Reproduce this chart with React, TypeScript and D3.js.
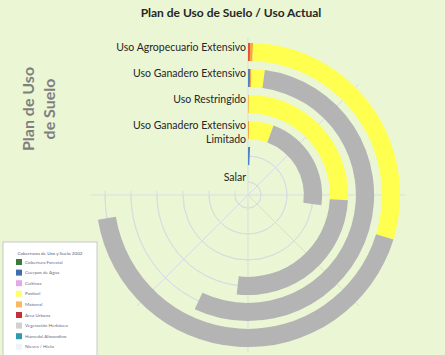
import React from "react";
import * as d3 from "d3";

// ---------- data ----------
const categories = [
  "Uso Agropecuario Extensivo",
  "Uso Ganadero Extensivo",
  "Uso Restringido",
  "Uso Ganadero Extensivo Limitado",
  "",
  "Salar",
];
// series values per category (arbitrary area units, scale max = 270)
const areaUrbana = [0.8, 0, 0, 0, 0, 0];
const cuerposAgua = [0, 1.0, 0, 0, 2.5, 0];
const matorral = [1.1, 0.6, 0.5, 0.9, 0, 0];
const pastizal = [105.1, 6.1, 92.5, 19.3, 0, 0];
const vegetacion = [153.6, 197.3, 93.5, 77.8, 0, 0];

const seriesNames = ["Área Urbana", "Cuerpos de Agua", "Matorral", "Pastizal", "Vegetación Herbácea"];
const seriesValues = [areaUrbana, cuerposAgua, matorral, pastizal, vegetacion];
const seriesColors = ["#E8503E", "#4A84C4", "#F5A83C", "#FFFF50", "#B4B4B4"];

const legendTitle = "Coberturas de Uso y Suelo 2002";
const legendItems = [
  "Cobertura Forestal",
  "Cuerpos de Agua",
  "Cultivos",
  "Pastizal",
  "Matorral",
  "Área Urbana",
  "Vegetación Herbácea",
  "Humedal Altoandino",
  "Nieves / Hielo",
];
const legendColors = ["#3B7A3B", "#3E6DB4", "#E3A8EC", "#FFFF66", "#F9B95C", "#C2303C", "#D0D0D0", "#2C9DAE", "#EEF3FA"];

const scaleMax = 270;

export default function App() {
  const W = 445, H = 355;
  const cx = 248, cy = 195;
  const FONT = "Lato, 'Open Sans', sans-serif";

  const keys = categories.map((c, i) => i + "|" + c);
  const r = d3.scaleBand<string>().domain(keys).range([156, 0]).paddingInner(0.3).paddingOuter(0.15);
  const a = d3.scaleLinear().domain([0, scaleMax]).range([0, 1.5 * Math.PI]);

  const arc = d3.arc<any>();
  const gridR = keys.map((k) => (r(k) as number) + r.bandwidth() / 2);
  const spokeLen = 157;
  const spokeAngles = d3.range(0, 271, 45);

  // stacked segments
  const segs: { key: string; i: number; s: number; v0: number; v1: number }[] = [];
  keys.forEach((k, i) => {
    let acc = 0;
    seriesValues.forEach((vals, s) => {
      const v = vals[i];
      if (v > 0) {
        segs.push({ key: k, i, s, v0: acc, v1: acc + v });
        acc += v;
      }
    });
  });

  const wrap = (t: string) => {
    const w = t.split(" ");
    if (w.length > 3) return [w.slice(0, 3).join(" "), w.slice(3).join(" ")];
    return [t];
  };

  return (
    <svg width={W} height={H} style={{ position: "absolute", left: 0, top: 0, background: "#EBF6D4" }} fontFamily={FONT}>
      <rect x={0} y={0} width={W} height={H} fill="#EBF6D4" />
      <text x={231} y={17} textAnchor="middle" fontSize={12} fontWeight="bold" fill="#262626">
        Plan de Uso de Suelo / Uso Actual
      </text>

      {/* axis title */}
      <g transform="translate(34,109) rotate(-90)">
        <text x={0} y={0} textAnchor="middle" fontSize={16} fontWeight="bold" fill="#7F7F7F">Plan de Uso</text>
        <text x={0} y={21} textAnchor="middle" fontSize={16} fontWeight="bold" fill="#7F7F7F">de Suelo</text>
      </g>

      {/* grid */}
      <g transform={`translate(${cx},${cy})`} stroke="#DADDE0" fill="none" strokeWidth={1}>
        {gridR.map((gr, i) => (
          <path key={"c" + i} d={arc({ innerRadius: gr, outerRadius: gr, startAngle: 0, endAngle: 1.5 * Math.PI }) as string} />
        ))}
        {spokeAngles.map((ang) => {
          const t = (ang * Math.PI) / 180;
          return <line key={"s" + ang} x1={0} y1={0} x2={spokeLen * Math.sin(t)} y2={-spokeLen * Math.cos(t)} />;
        })}
        {gridR.map((gr, i) => (
          <line key={"t" + i} x1={-gr} x2={-gr} y1={0} y2={-4} />
        ))}
      </g>

      {/* bars */}
      <g transform={`translate(${cx},${cy})`}>
        {segs.map((sg, j) => (
          <path
            key={j}
            d={arc({
              innerRadius: r(sg.key) as number,
              outerRadius: (r(sg.key) as number) + r.bandwidth(),
              startAngle: a(sg.v0),
              endAngle: a(sg.v1),
            }) as string}
            fill={seriesColors[sg.s]}
          />
        ))}
      </g>

      {/* category labels */}
      <g fontSize={10.5} fill="#262626" textAnchor="end">
        {keys.map((k, i) => {
          const yc = cy - ((r(k) as number) + r.bandwidth() / 2);
          return wrap(categories[i]).map((ln, li) => (
            <text key={k + li} x={246} y={yc - 1.5 + li * 14}>{ln}</text>
          ));
        })}
      </g>

      {/* legend (image-like) */}
      <g>
        <rect x={3} y={242} width={94} height={120} fill="#FFFFFF" stroke="#C8C8C8" strokeWidth={1} />
        <text x={50} y={255} textAnchor="middle" fontSize={4.6} fill="#5A5A7A">{legendTitle}</text>
        {legendItems.map((it, i) => (
          <g key={it} transform={`translate(16,${262 + i * 10.6})`}>
            <rect x={0} y={-3} width={6} height={6} fill={legendColors[i]} />
            <text x={9} y={1.6} fontSize={4.6} fill="#6A6A80">{it}</text>
          </g>
        ))}
      </g>
    </svg>
  );
}
